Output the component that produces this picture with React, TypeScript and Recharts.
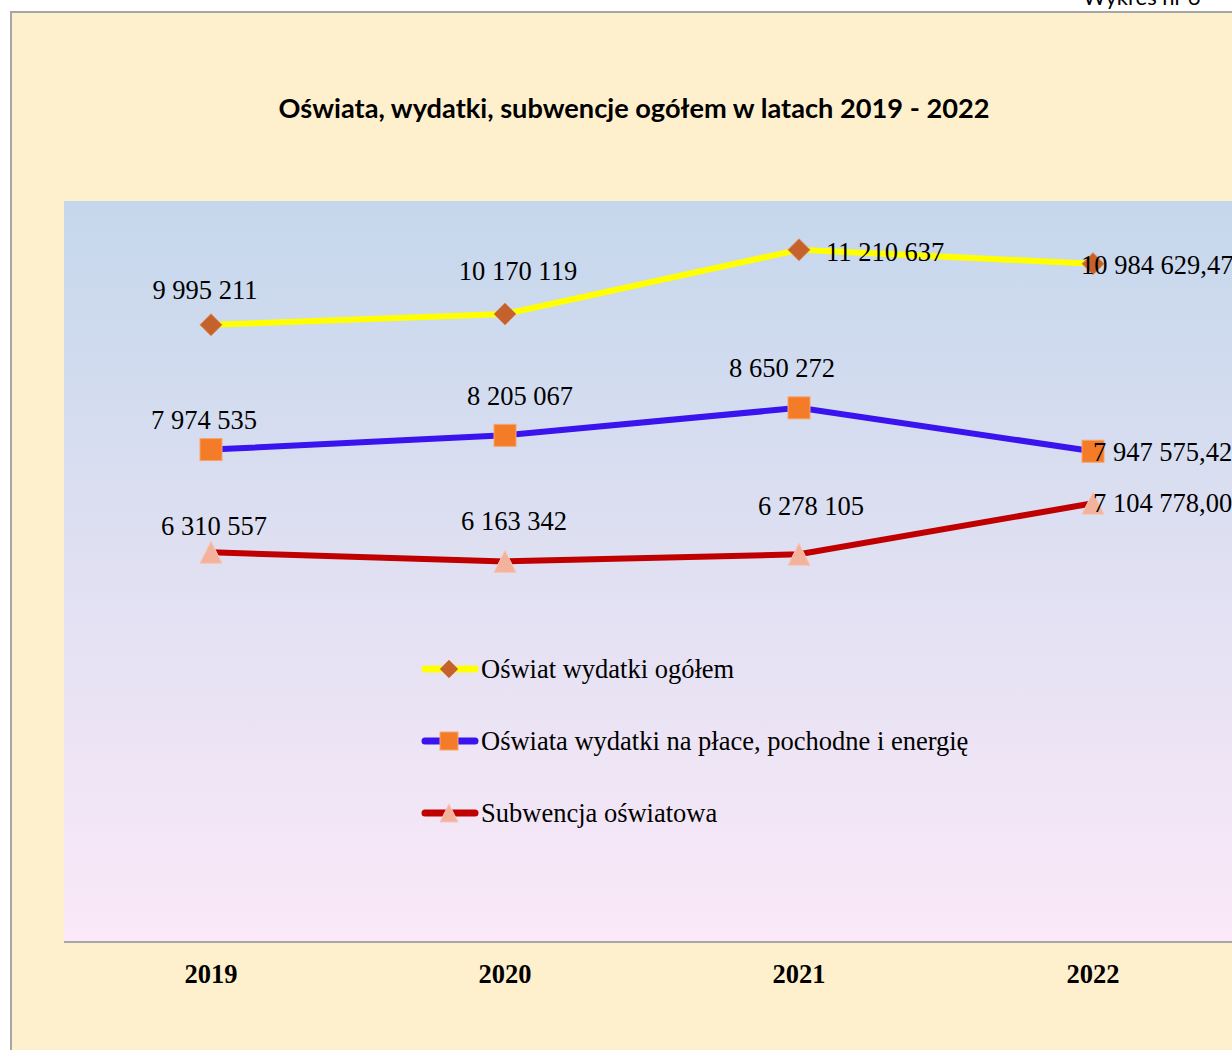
import React from 'react';
import { LineChart, Line, XAxis, YAxis, CartesianGrid, LabelList } from 'recharts';

const years = ['2019', '2020', '2021', '2022'];
const wydatkiOgolem = [9995211, 10170119, 11210637, 10984629.47];
const wydatkiPlace = [7974535, 8205067, 8650272, 7947575.42];
const subwencja = [6310557, 6163342, 6278105, 7104778.0];

const labelsOgolem = ['9 995 211', '10 170 119', '11 210 637', '10 984 629,47'];
const labelsPlace = ['7 974 535', '8 205 067', '8 650 272', '7 947 575,42'];
const labelsSubwencja = ['6 310 557', '6 163 342', '6 278 105', '7 104 778,00'];

const seriesNames = [
    'Oświat wydatki ogółem',
    'Oświata wydatki na płace, pochodne i energię',
    'Subwencja oświatowa',
];

const data = years.map((year, i) => ({
    year,
    ogolem: wydatkiOgolem[i],
    place: wydatkiPlace[i],
    subwencja: subwencja[i],
}));

const SERIF = '"Liberation Serif", "Times New Roman", serif';
const FS = 26.5;

// label placement, moved by hand like in the source sheet: [dx, dy, anchor]
const labelPos: Record<string, [number, number, 'middle' | 'start'][]> = {
    ogolem: [[-6, -35, 'middle'], [13, -43, 'middle'], [27, 2, 'start'], [-12, 1, 'start']],
    place: [[-7, -30, 'middle'], [15, -39, 'middle'], [-17, -40, 'middle'], [0, 1, 'start']],
    subwencja: [[3, -26, 'middle'], [9, -40, 'middle'], [12, -48, 'middle'], [0, 0, 'start']],
};

const Diamond = ({ cx, cy, s = 11 }: { cx: number; cy: number; s?: number }) => (
    <polygon
        points={`${cx},${cy - s} ${cx + s},${cy} ${cx},${cy + s} ${cx - s},${cy}`}
        fill="#C5612A"
        stroke="#D98A5A"
        strokeWidth={1}
    />
);

const Square = ({ cx, cy, s = 11 }: { cx: number; cy: number; s?: number }) => (
    <rect x={cx - s} y={cy - s} width={s * 2} height={s * 2} fill="#F47B28" stroke="#F6A56C" strokeWidth={1} />
);

const Triangle = ({ cx, cy, s = 11 }: { cx: number; cy: number; s?: number }) => (
    <polygon
        points={`${cx},${cy - s} ${cx + s},${cy + s} ${cx - s},${cy + s}`}
        fill="#F3B29C"
        stroke="#F6C7B6"
        strokeWidth={1}
    />
);

const makeLabel = (key: string, texts: string[]) => (props: any) => {
    const { x, y, index } = props;
    const [dx, dy, anchor] = labelPos[key][index];
    return (
        <text
            x={x + dx}
            y={y + dy + 9}
            textAnchor={anchor}
            fontFamily={SERIF}
            fontSize={FS}
            fill="#000"
        >
            {texts[index]}
        </text>
    );
};

const legendItems = [
    { name: seriesNames[0], color: '#FFFF00', Marker: Diamond },
    { name: seriesNames[1], color: '#3A14EE', Marker: Square },
    { name: seriesNames[2], color: '#C00000', Marker: Triangle },
];

const ChartLegend = () => (
    <div
        style={{
            position: 'absolute',
            left: 422,
            top: 633,
            fontFamily: SERIF,
            fontSize: FS,
            color: '#000',
        }}
    >
        {legendItems.map(({ name, color, Marker }) => (
            <div key={name} style={{ display: 'flex', alignItems: 'center', height: 72, whiteSpace: 'nowrap' }}>
                <svg width={59} height={30} style={{ overflow: 'visible' }}>
                    <line x1={3} y1={15} x2={53} y2={15} stroke={color} strokeWidth={7} strokeLinecap="round" />
                    <Marker cx={27} cy={15} s={9} />
                </svg>
                <span>{name}</span>
            </div>
        ))}
    </div>
);

export default function App() {
    return (
        <div
            style={{
                position: 'fixed',
                left: 0,
                top: 0,
                width: 1232,
                height: 1050,
                overflow: 'hidden',
                background: '#fff',
            }}
        >
            <div
                style={{
                    position: 'absolute',
                    left: 1083,
                    top: -17,
                    fontFamily: 'Lato, sans-serif',
                    fontSize: 22,
                    color: '#000',
                    whiteSpace: 'nowrap',
                }}
            >
                Wykres nr 6
            </div>
            <div
                style={{
                    position: 'absolute',
                    left: 10,
                    top: 11,
                    width: 1300,
                    height: 1100,
                    background: '#FFF0CD',
                    borderLeft: '2px solid #A6A6A6',
                    borderTop: '2px solid #A6A6A6',
                }}
            />
            <div
                style={{
                    position: 'absolute',
                    left: 0,
                    top: 91,
                    width: 1268,
                    textAlign: 'center',
                    fontFamily: 'Lato, sans-serif',
                    fontWeight: 'bold',
                    fontSize: 27.2,
                    color: '#000',
                }}
            >
                Oświata, wydatki, subwencje ogółem w latach 2019 - 2022
            </div>
            <div style={{ position: 'absolute', left: 0, top: 0 }}>
                <LineChart width={1240} height={1050} data={data} margin={{ top: 201, right: 0, bottom: 78, left: 64 }}>
                    <defs>
                        <linearGradient id="plotBg" x1="0" y1="0" x2="0" y2="1">
                            <stop offset="0%" stopColor="#C5D7EC" />
                            <stop offset="100%" stopColor="#FBE9F8" />
                        </linearGradient>
                    </defs>
                    <CartesianGrid fill="url(#plotBg)" stroke="transparent" />
                    <XAxis
                        dataKey="year"
                        padding={{ left: 147, right: 147 }}
                        axisLine={{ stroke: '#8E8E98', strokeWidth: 1.5 }}
                        tickLine={false}
                        tickMargin={16}
                        tick={{ fontFamily: SERIF, fontSize: FS, fontWeight: 'bold', fill: '#000' }}
                    />
                    <YAxis hide domain={[0, 12000000]} />
                    <Line
                        dataKey="ogolem"
                        name={seriesNames[0]}
                        stroke="#FFFF00"
                        strokeWidth={6}
                        dot={(p: any) => <Diamond key={p.index} cx={p.cx} cy={p.cy} />}
                        isAnimationActive={false}
                    >
                        <LabelList dataKey="ogolem" content={makeLabel('ogolem', labelsOgolem)} />
                    </Line>
                    <Line
                        dataKey="place"
                        name={seriesNames[1]}
                        stroke="#3A14EE"
                        strokeWidth={6}
                        dot={(p: any) => <Square key={p.index} cx={p.cx} cy={p.cy} />}
                        isAnimationActive={false}
                    >
                        <LabelList dataKey="place" content={makeLabel('place', labelsPlace)} />
                    </Line>
                    <Line
                        dataKey="subwencja"
                        name={seriesNames[2]}
                        stroke="#C00000"
                        strokeWidth={6}
                        dot={(p: any) => <Triangle key={p.index} cx={p.cx} cy={p.cy} />}
                        isAnimationActive={false}
                    >
                        <LabelList dataKey="subwencja" content={makeLabel('subwencja', labelsSubwencja)} />
                    </Line>
                </LineChart>
            </div>
            <ChartLegend />
        </div>
    );
}
